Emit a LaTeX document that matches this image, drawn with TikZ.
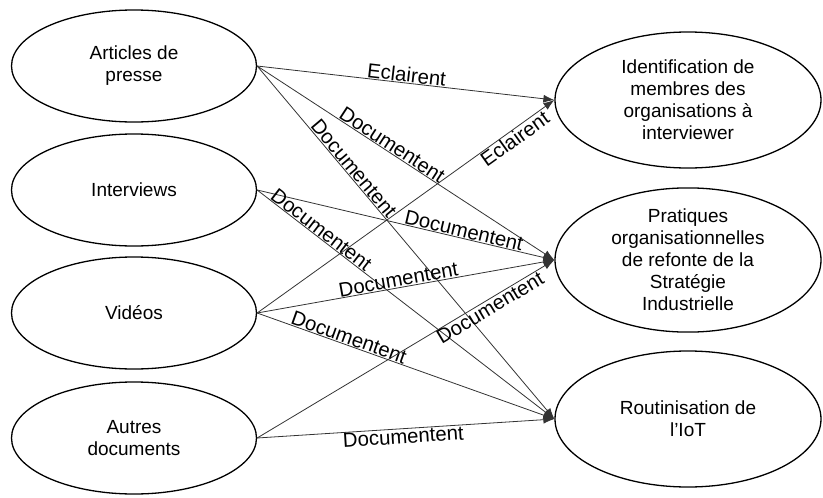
\documentclass[tikz,border=0pt]{standalone}
\usepackage{fontspec}
\setmainfont{Liberation Sans}
\usetikzlibrary{shapes.geometric,arrows.meta}
\begin{document}
\begin{tikzpicture}[x=1pt,y=-1pt,
  src/.style={draw=black,line width=1.3pt,ellipse,minimum width=245pt,minimum height=112pt,inner sep=0pt,align=center,font=\fontsize{19}{22}\selectfont},
  tgt/.style={draw=black,line width=1.3pt,ellipse,minimum width=266pt,minimum height=136pt,inner sep=0pt,align=center,font=\fontsize{19}{22}\selectfont},
  link/.style={draw=black!80,line width=0.8pt,-{Latex[length=11pt,width=8pt]}},
  lbl/.style={sloped,inner sep=0.5pt,font=\fontsize{20.3}{22}\selectfont}]
\useasboundingbox (0,0) rectangle (823,498);
\node[src] (art) at (134,66) {Articles de\\presse};
\node[src] (int) at (134,190) {Interviews};
\node[src] (vid) at (134,313) {Vidéos};
\node[src] (aut) at (134,438) {Autres\\documents};
\node[tgt] (ide) at (688,100) {Identification de\\membres des\\organisations à\\interviewer};
\node[tgt] (pra) at (688,260) {Pratiques\\organisationnelles\\de refonte de la\\Stratégie\\Industrielle};
\node[tgt] (rou) at (688,419) {Routinisation de\\l’IoT};
\draw[link] (art.east) -- node[lbl,above,pos=0.5] {Eclairent} (ide.west);
\draw[link] (art.east) -- node[lbl,above,pos=0.44] {Documentent} (pra.west);
\draw[link] (art.east) -- node[lbl,above,pos=0.305] {Documentent} (rou.west);
\draw[link] (int.east) -- node[lbl,above,pos=0.69] {Documentent} (pra.west);
\draw[link] (int.east) -- node[lbl,above,pos=0.2] {Documentent} (rou.west);
\draw[link] (vid.east) -- node[lbl,below,pos=0.85] {Eclairent} (ide.west);
\draw[link] (vid.east) -- node[lbl,above,pos=0.48] {Documentent} (pra.west);
\draw[link] (vid.east) -- node[lbl,above,pos=0.3] {Documentent} (rou.west);
\draw[link] (aut.east) -- node[lbl,below,pos=0.77] {Documentent} (pra.west);
\draw[link] (aut.east) -- node[lbl,below,pos=0.49] {Documentent} (rou.west);
\end{tikzpicture}
\end{document}
